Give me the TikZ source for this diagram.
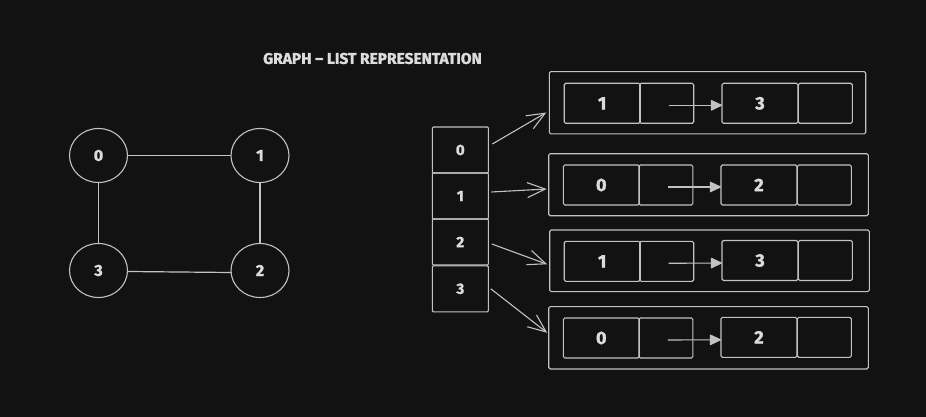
\documentclass[tikz,border=0pt]{standalone}
\usepackage{fontspec}
\setmainfont{Fira Sans}[BoldFeatures={FakeBold=1.6}]
\usetikzlibrary{shapes.geometric,arrows.meta}
\definecolor{bg}{HTML}{121212}
\definecolor{lc}{HTML}{C2C2C2}
\definecolor{tc}{HTML}{DCDCDC}
\tikzset{
  ln/.style={draw=lc, line width=1.2pt},
  vert/.style={ellipse, draw=lc, line width=1.1pt, minimum width=58pt, minimum height=54pt,
    inner sep=0pt, outer sep=0pt, text=tc, font=\fontsize{16}{16}\selectfont\bfseries},
  arrcell/.style={rectangle, draw=lc, line width=1.1pt, minimum width=56pt, minimum height=46pt,
    inner sep=0pt, outer sep=0pt, text=tc, font=\fontsize{15}{15}\selectfont\bfseries, rounded corners=1pt},
  outerbox/.style={rectangle, draw=lc, line width=1.1pt, inner sep=0pt, outer sep=0pt, rounded corners=1.5pt},
  valcell/.style={rectangle, draw=lc, line width=1.1pt, minimum width=76pt, minimum height=40pt,
    inner sep=0pt, outer sep=0pt, text=tc, font=\fontsize{18}{18}\selectfont\bfseries, rounded corners=1.5pt},
  ptrcell/.style={rectangle, draw=lc, line width=1.1pt, minimum width=54pt, minimum height=40pt,
    inner sep=0pt, outer sep=0pt, rounded corners=1.5pt},
  openarr/.style={draw=lc, line width=1.1pt, -{Straight Barb[length=18pt,width=15pt]}},
  fillarr/.style={draw=lc, line width=1.1pt, -{Triangle[length=12pt,width=11pt,round]}},
  title/.style={text=tc, font=\fontsize{15.5}{15.5}\selectfont\bfseries, inner sep=0pt}
}
\begin{document}
\begin{tikzpicture}[x=1pt,y=-1pt]
\fill[bg] (0,0) rectangle (926,417);
\useasboundingbox (0,0) rectangle (926,417);

\node[title] (T) at (372.5,58.5) {GRAPH – LIST REPRESENTATION};

% graph
\node[vert] (V0) at (98.5,155.5) {0};
\node[vert] (V1) at (260,155.5) {1};
\node[vert] (V2) at (260,270.5) {2};
\node[vert] (V3) at (98.5,270.5) {3};
\draw[ln] (V0) -- (V1);
\draw[ln] (V1) -- (V2);
\draw[ln] (V0) -- (V3);
\draw[ln] ([yshift=-1pt]V3.east) -- ([yshift=-2pt]V2.west);

% array
\node[arrcell] (C0) at (460.3,150) {0};
\node[arrcell] (C1) at (460.3,196) {1};
\node[arrcell] (C2) at (460.3,242) {2};
\node[arrcell] (C3) at (460.3,288.8) {3};

% list 0
\node[outerbox, minimum width=316.4pt, minimum height=62.3pt] (L0) at (707.5,102.8) {};
\node[valcell] (A0) at (602.2,103.3) {1};
\node[ptrcell] (P0) at (666.7,103.3) {};
\node[valcell] (B0) at (760,103.3) {3};
\node[ptrcell] (Q0) at (825.3,103.3) {};
\draw[fillarr] ([xshift=2pt,yshift=-2pt]P0.center) -- ([yshift=-2pt]B0.west);

% list 1
\node[outerbox, minimum width=319.6pt, minimum height=62pt] (L1) at (708.5,184.7) {};
\node[valcell] (A1) at (601.3,185) {0};
\node[ptrcell] (P1) at (665.8,185) {};
\node[valcell] (B1) at (759,185) {2};
\node[ptrcell] (Q1) at (824.3,185) {};
\draw[fillarr] ([xshift=2pt,yshift=-2pt]P1.center) -- ([yshift=-2pt]B1.west);

% list 2
\node[outerbox, minimum width=319.6pt, minimum height=61.7pt] (L2) at (709.5,260.8) {};
\node[valcell] (A2) at (602.2,261.3) {1};
\node[ptrcell] (P2) at (666.7,261.3) {};
\node[valcell] (B2) at (760,260.5) {3};
\node[ptrcell] (Q2) at (825.3,260.5) {};
\draw[fillarr] ([xshift=2pt,yshift=-2pt]P2.center) -- ([yshift=-2.5pt]B2.west);

% list 3
\node[outerbox, minimum width=319.6pt, minimum height=62.3pt] (L3) at (708.5,337.8) {};
\node[valcell] (A3) at (601.3,338) {0};
\node[ptrcell] (P3) at (665.8,338) {};
\node[valcell] (B3) at (759,337.3) {2};
\node[ptrcell] (Q3) at (824.3,337.3) {};
\draw[fillarr] ([xshift=2pt,yshift=-2pt]P3.center) -- ([yshift=-2.5pt]B3.west);

% array to lists
\draw[openarr] ([xshift=4pt,yshift=6pt]C0.east) -- ([xshift=-3pt,yshift=-9.7pt]L0.west);
\draw[openarr] ([xshift=3pt,yshift=4pt]C1.east) -- ([xshift=-2pt,yshift=-4.3pt]L1.west);
\draw[openarr] ([xshift=3.5pt,yshift=-2pt]C2.east) -- ([xshift=-2.5pt,yshift=-3.5pt]L2.west);
\draw[openarr] ([xshift=2.5pt,yshift=0pt]C3.east) -- ([xshift=-1.5pt,yshift=5pt]L3.west);
\end{tikzpicture}
\end{document}
